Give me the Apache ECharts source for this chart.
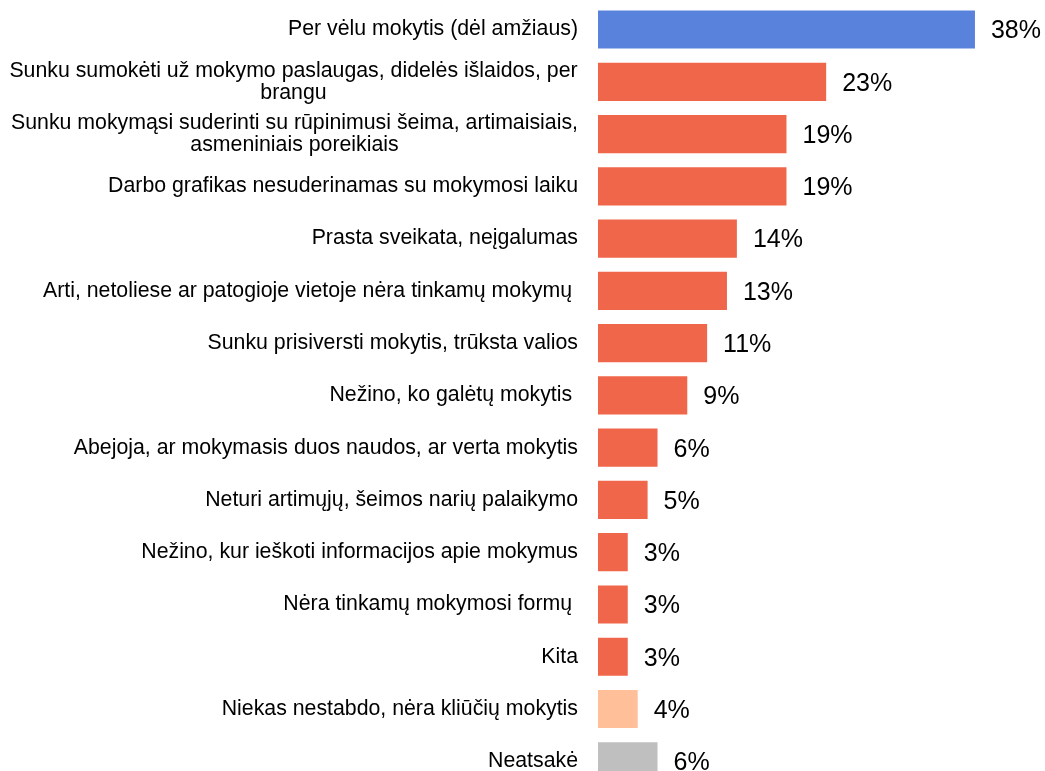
<!DOCTYPE html>
<html>
<head>
<meta charset="utf-8">
<script src="https://cdn.jsdelivr.net/npm/echarts@6/dist/echarts.min.js"></script>
<style>
  html, body { margin: 0; padding: 0; background: #ffffff; }
  #chart { width: 1045px; height: 771px; }
</style>
</head>
<body>
<div id="chart"></div>
<script>
const categories = [
  'Per vėlu mokytis (dėl amžiaus)',
  'Sunku sumokėti už mokymo paslaugas, didelės išlaidos, per\nbrangu',
  'Sunku mokymąsi suderinti su rūpinimusi šeima, artimaisiais,\nasmeniniais poreikiais',
  'Darbo grafikas nesuderinamas su mokymosi laiku',
  'Prasta sveikata, neįgalumas',
  'Arti, netoliese ar patogioje vietoje nėra tinkamų mokymų ',
  'Sunku prisiversti mokytis, trūksta valios',
  'Nežino, ko galėtų mokytis ',
  'Abejoja, ar mokymasis duos naudos, ar verta mokytis',
  'Neturi artimųjų, šeimos narių palaikymo',
  'Nežino, kur ieškoti informacijos apie mokymus',
  'Nėra tinkamų mokymosi formų ',
  'Kita',
  'Niekas nestabdo, nėra kliūčių mokytis',
  'Neatsakė'
];
const values = [38, 23, 19, 19, 14, 13, 11, 9, 6, 5, 3, 3, 3, 4, 6];
const groups = ['age', 'barrier', 'barrier', 'barrier', 'barrier', 'barrier', 'barrier',
  'barrier', 'barrier', 'barrier', 'barrier', 'barrier', 'barrier', 'none', 'na'];

const palette = { age: '#5882DC', barrier: '#F0664A', none: '#FFBF99', na: '#BFBFBF' };
const FONT_FAMILY = '"Liberation Sans", Arial, sans-serif';
const LABEL_SIZE = 21.3;

// measure multi-line labels so their lines can be centred within the block
const ctx = document.createElement('canvas').getContext('2d');
ctx.font = LABEL_SIZE + 'px ' + FONT_FAMILY;
const rich = {};
const labelMap = {};
categories.forEach((c, i) => {
  if (c.indexOf('\n') >= 0) {
    const lines = c.split('\n');
    const w = Math.ceil(Math.max(...lines.map(l => ctx.measureText(l).width)));
    rich['m' + i] = { width: w, align: 'center', fontSize: LABEL_SIZE, lineHeight: 22,
      fontFamily: FONT_FAMILY, color: '#000' };
    labelMap[c] = lines.map(l => '{m' + i + '|' + l + '}').join('\n');
  }
});

const chart = echarts.init(document.getElementById('chart'), null, { renderer: 'canvas' });
chart.setOption({
  animation: false,
  backgroundColor: '#ffffff',
  grid: { left: 598, top: 3.4, width: 396.8, height: 784, containLabel: false, outerBoundsMode: 'none' },
  xAxis: {
    type: 'value', min: 0, max: 40, show: false
  },
  yAxis: {
    type: 'category',
    data: categories,
    inverse: true,
    axisLine: { show: false },
    axisTick: { show: false },
    splitLine: { show: false },
    axisLabel: {
      margin: 20,
      fontSize: LABEL_SIZE,
      lineHeight: 22,
      fontFamily: FONT_FAMILY,
      color: '#000000',
      formatter: v => labelMap[v] || v,
      rich: rich
    }
  },
  series: [{
    type: 'bar',
    data: values.map((v, i) => ({ value: v, itemStyle: { color: palette[groups[i]] } })),
    barCategoryGap: '27%',
    label: {
      show: true,
      position: 'right',
      distance: 16,
      formatter: p => p.value + '%',
      fontSize: 25,
      fontFamily: FONT_FAMILY,
      color: '#000000',
      offset: [0, 2]
    }
  }]
});
</script>
</body>
</html>
